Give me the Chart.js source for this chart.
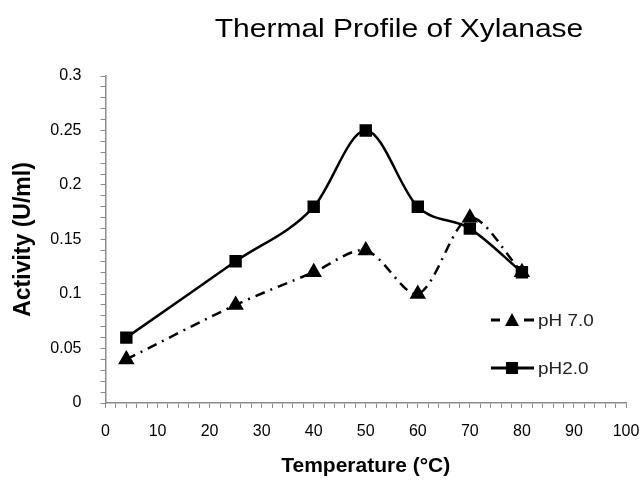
<!DOCTYPE html>
<html>
<head>
<meta charset="utf-8">
<script src="https://cdn.jsdelivr.net/npm/chart.js@4"></script>
<style>
  html, body { margin: 0; padding: 0; background: #fff; }
  #wrap { width: 644px; height: 484px; }
</style>
</head>
<body>
<div id="wrap"><canvas id="chart" width="644" height="484"></canvas></div>
<script>
const temps = [4, 25, 40, 50, 60, 70, 80]
const ph7 = [0.04, 0.09, 0.12, 0.14, 0.10, 0.17, 0.12]
const ph2 = [0.06, 0.13, 0.18, 0.25, 0.18, 0.16, 0.12]
const yLabels = ["0", "0.05", "0.1", "0.15", "0.2", "0.25", "0.3"]
const xLabels = ["0", "10", "20", "30", "40", "50", "60", "70", "80", "90", "100"]

const FONT = "'Liberation Sans', Arial, sans-serif"
const axisGray = "#8c8c8c"

// the original is a bit stretched sideways, so hand-drawn text gets the same squeeze
function wideText(ctx, str, x, y, sx) {
  ctx.save()
  ctx.translate(x, y)
  ctx.scale(sx, 1)
  ctx.fillText(str, 0, 0)
  ctx.restore()
}

// title + legend drawn by hand so they sit where the original has them
const overlay = {
  id: "overlay",
  afterDraw(chart) {
    const ctx = chart.ctx
    ctx.save()
    ctx.fillStyle = "#000"
    ctx.font = "25px " + FONT
    ctx.textAlign = "center"
    ctx.textBaseline = "alphabetic"
    wideText(ctx, "Thermal Profile of Xylanase", 399, 37, 1.2)

    ctx.strokeStyle = "#000"
    ctx.fillStyle = "#000"
    ctx.lineWidth = 3
    // pH 7.0 entry
    let y = 320
    ctx.beginPath()
    ctx.moveTo(491, y); ctx.lineTo(500, y)
    ctx.moveTo(524, y); ctx.lineTo(534, y)
    ctx.stroke()
    ctx.beginPath()
    ctx.moveTo(512, y - 7); ctx.lineTo(519, y + 6); ctx.lineTo(505, y + 6)
    ctx.closePath(); ctx.fill()
    // pH2.0 entry
    y = 368
    ctx.beginPath()
    ctx.moveTo(491, y); ctx.lineTo(534, y)
    ctx.stroke()
    ctx.fillRect(506, y - 6, 12, 12)

    ctx.fillStyle = "#222"
    ctx.font = "16px " + FONT
    ctx.textAlign = "left"
    wideText(ctx, "pH 7.0", 538, 326, 1.18)
    wideText(ctx, "pH2.0", 538, 374, 1.18)
    ctx.restore()
  }
}

const ctx = document.getElementById("chart").getContext("2d")
new Chart(ctx, {
  type: "line",
  data: {
    datasets: [
      {
        label: "pH 7.0",
        data: temps.map((t, i) => ({ x: t, y: ph7[i] })),
        borderColor: "#000",
        backgroundColor: "#000",
        borderWidth: 2.5,
        borderDash: [10, 6, 2, 6],
        pointStyle: "triangle",
        pointRadius: 7,
        tension: 0.3,
        fill: false,
      },
      {
        label: "pH2.0",
        data: temps.map((t, i) => ({ x: t, y: ph2[i] })),
        borderColor: "#000",
        backgroundColor: "#000",
        borderWidth: 2.5,
        pointStyle: "rect",
        pointRadius: 7,
        cubicInterpolationMode: "monotone",
        fill: false,
      },
    ],
  },
  options: {
    responsive: false,
    animation: false,
    layout: { padding: { top: 76, right: 18, left: 10, bottom: 5 } },
    plugins: {
      legend: { display: false },
      title: { display: false },
      tooltip: { enabled: false },
    },
    scales: {
      x: {
        type: "linear",
        min: 0,
        max: 100,
        afterFit: (s) => {
          s.height = 76
          s.paddingLeft = 0
          s.paddingRight = 0
        },
        border: { color: axisGray, width: 1.5 },
        grid: { drawOnChartArea: false, color: axisGray, tickLength: 5 },
        ticks: {
          stepSize: 2,
          autoSkip: false,
          maxRotation: 0,
          color: "#000",
          font: { family: FONT, size: 16 },
          padding: 14,
          callback: (v) => (Math.round(v) % 10 === 0 ? xLabels[Math.round(v) / 10] : ""),
        },
        title: {
          display: true,
          text: "Temperature (°C)",
          color: "#000",
          padding: 0,
          font: { family: FONT, size: 21, weight: "bold" },
        },
      },
      y: {
        min: 0,
        max: 0.3,
        afterFit: (s) => {
          s.width = 95.5
          s.paddingTop = 0
          s.paddingBottom = 0
        },
        border: { color: axisGray, width: 1.5 },
        grid: { drawOnChartArea: false, color: axisGray, tickLength: 5 },
        ticks: {
          stepSize: 0.01,
          autoSkip: false,
          color: "#000",
          font: { family: FONT, size: 16 },
          padding: 19,
          callback: (v) => {
            const k = Math.round(v * 100)
            return k % 5 === 0 ? yLabels[k / 5] : ""
          },
        },
        title: {
          display: true,
          text: "Activity (U/ml)",
          color: "#000",
          padding: 0,
          font: { family: FONT, size: 23, weight: "bold" },
        },
      },
    },
  },
  plugins: [overlay],
})
</script>
</body>
</html>
